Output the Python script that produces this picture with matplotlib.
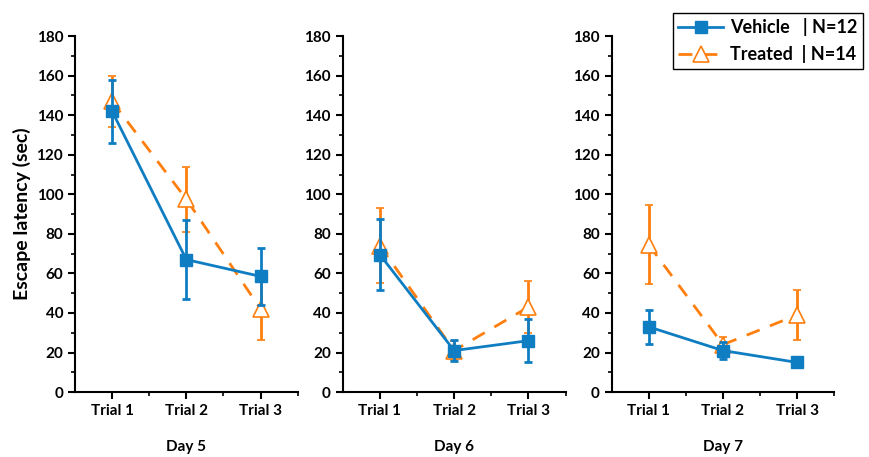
import numpy as np
import matplotlib.pyplot as plt
from matplotlib.ticker import MultipleLocator
from matplotlib.lines import Line2D

# data
days = ["Day 5", "Day 6", "Day 7"]
trials = ["Trial 1", "Trial 2", "Trial 3"]

vehicle_mean = [[142, 67, 58.5], [69.5, 21, 26], [33, 21, 15]]
vehicle_err = [[16, 20, 14.5], [18, 5.5, 11], [8.5, 4.5, 2]]
treated_mean = [[147, 97.5, 42], [74, 21, 43], [74.5, 24, 39]]
treated_err = [[13, 16.5, 15.5], [19, 5, 13], [20, 4, 12.5]]

blue = '#0F7DC2'
orange = '#FF7F0E'
dash = (0, (5, 4))

plt.rcParams['font.family'] = ['Lato', 'DejaVu Sans']
plt.rcParams['font.weight'] = 'bold'

fig = plt.figure(figsize=(8.7, 4.57), dpi=100)
lefts = [0.0862, 0.394, 0.703]
x = np.arange(1, 4)

for i, day in enumerate(days):
    ax = fig.add_axes([lefts[i], 0.142, 0.256, 0.779])
    ax.errorbar(x, vehicle_mean[i], yerr=vehicle_err[i], color=blue, lw=2,
                marker='s', ms=9, capsize=3, capthick=2, elinewidth=2, zorder=3)
    ax.errorbar(x, treated_mean[i], yerr=treated_err[i], color=orange, lw=2,
                ls=dash, marker='^', ms=12, mfc='white', mec=orange,
                mew=1.2, capsize=3, capthick=2, elinewidth=2, zorder=2)
    ax.set_xlim(0.5, 3.5)
    ax.set_ylim(0, 180)
    ax.set_xticks(x)
    ax.set_xticklabels(trials, fontsize=11, fontweight='bold')
    ax.xaxis.set_minor_locator(plt.FixedLocator([1.5, 2.5, 3.5]))
    ax.yaxis.set_major_locator(MultipleLocator(20))
    ax.yaxis.set_minor_locator(MultipleLocator(10))
    for lbl in ax.get_yticklabels():
        lbl.set_fontweight('bold')
        lbl.set_fontsize(11)
    ax.tick_params(which='major', length=5, width=1.5, direction='out')
    ax.tick_params(which='minor', length=3, width=1.2, direction='out')
    for s in ['top', 'right']:
        ax.spines[s].set_visible(False)
    for s in ['left', 'bottom']:
        ax.spines[s].set_linewidth(1.5)
    ax.set_xlabel(day, fontsize=11, fontweight='bold', labelpad=16)
    if i == 0:
        ax.set_ylabel("Escape latency (sec)", fontsize=14, fontweight='bold')
    if i == 2:
        handles = [
            Line2D([], [], color=blue, lw=2, marker='s', ms=9),
            Line2D([], [], color=orange, lw=2, ls=dash, marker='^', ms=12,
                   mfc='white', mec=orange, mew=1.2),
        ]
        leg = ax.legend(handles, ['Vehicle   | N=12', 'Treated  | N=14'],
                        loc='upper left', bbox_to_anchor=(0.274, 1.065),
                        prop={'size': 13, 'weight': 'bold'},
                        frameon=True, fancybox=False,
                        handlelength=2.5, borderpad=0.3, labelspacing=0.5,
                        handletextpad=0.4, borderaxespad=0)
        leg.get_frame().set_edgecolor('black')
        leg.get_frame().set_linewidth(1)
        leg.get_frame().set_alpha(1)

fig.savefig("out.png", dpi=100)
